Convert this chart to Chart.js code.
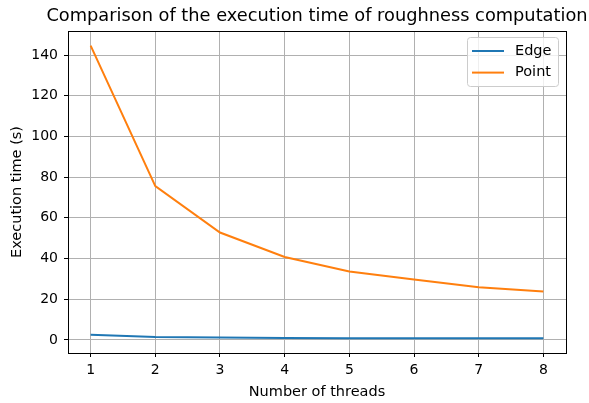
<!DOCTYPE html>
<html>
<head>
<meta charset="utf-8">
<script src="https://cdn.jsdelivr.net/npm/chart.js@4/dist/chart.umd.min.js"></script>
<style>
  html, body { margin: 0; padding: 0; background: #fff; }
  #wrap { width: 589px; height: 403px; position: relative; }
</style>
</head>
<body>
<div id="wrap"><canvas id="c"></canvas></div>
<script>
// Thread counts and measured execution times (seconds)
const threads = [1, 2, 3, 4, 5, 6, 7, 8];
const edgeTimes = [2.6, 1.5, 1.2, 1.0, 0.9, 0.85, 0.8, 0.8];
const pointTimes = [144.6, 75.6, 52.8, 40.8, 33.6, 29.7, 25.9, 23.8];
const yTickValues = [0, 20, 40, 60, 80, 100, 120, 140];
const seriesNames = ['Edge', 'Point'];
const chartTitle = 'Comparison of the execution time of roughness computation';

const FONT = 'DejaVu Sans';

// autoscale with a 5% margin on each side
function padded(vals) {
  const lo = Math.min(...vals), hi = Math.max(...vals);
  const m = (hi - lo) * 0.05;
  return [lo - m, hi + m];
}
const [xMin, xMax] = padded(threads);
const [yMin, yMax] = padded(edgeTimes.concat(pointTimes));

// full frame around the plot area, plus the title centred over it
const framePlugin = {
  id: 'frame',
  afterDatasetsDraw(chart) {
    const { ctx, chartArea: a } = chart;
    ctx.save();
    ctx.strokeStyle = '#000';
    ctx.lineWidth = 1;
    ctx.strokeRect(Math.round(a.left) + 0.5, Math.round(a.top) + 0.5,
                   Math.round(a.right - a.left), Math.round(a.bottom - a.top));
    ctx.font = '17.8px "' + FONT + '"';
    ctx.fillStyle = '#000';
    ctx.textAlign = 'center';
    ctx.textBaseline = 'middle';
    ctx.fillText(chartTitle, (a.left + a.right) / 2, a.top - 15);
    ctx.restore();
  }
};

// legend box in the upper-right corner of the plot
const innerLegend = {
  id: 'innerLegend',
  afterDraw(chart) {
    const { ctx, chartArea: a } = chart;
    const w = 91, h = 49;
    const x = a.right - 8 - w, y = a.top + 6;
    ctx.save();
    ctx.beginPath();
    ctx.roundRect(x + 0.5, y + 0.5, w, h, 3);
    ctx.fillStyle = 'rgba(255,255,255,0.8)';
    ctx.fill();
    ctx.strokeStyle = '#cccccc';
    ctx.lineWidth = 1;
    ctx.stroke();
    ctx.font = '14.5px "' + FONT + '"';
    ctx.textBaseline = 'middle';
    ctx.fillStyle = '#000';
    chart.data.datasets.forEach((ds, i) => {
      const ry = y + 14 + i * 21.6;
      ctx.beginPath();
      ctx.moveTo(x + 5, ry);
      ctx.lineTo(x + 37, ry);
      ctx.strokeStyle = ds.borderColor;
      ctx.lineWidth = 2;
      ctx.stroke();
      ctx.fillText(ds.label, x + 48, ry);
    });
    ctx.restore();
  }
};

new Chart(document.getElementById('c'), {
  type: 'line',
  data: {
    datasets: [
      {
        label: seriesNames[0],
        data: threads.map((t, i) => ({ x: t, y: edgeTimes[i] })),
        borderColor: '#1f77b4',
        backgroundColor: '#1f77b4',
        borderWidth: 2,
        pointRadius: 0,
        tension: 0
      },
      {
        label: seriesNames[1],
        data: threads.map((t, i) => ({ x: t, y: pointTimes[i] })),
        borderColor: '#ff7f0e',
        backgroundColor: '#ff7f0e',
        borderWidth: 2,
        pointRadius: 0,
        tension: 0
      }
    ]
  },
  options: {
    responsive: true,
    maintainAspectRatio: false,
    animation: false,
    layout: { padding: { left: 0, right: 23, top: 31, bottom: 0 } },
    plugins: {
      legend: { display: false },
      tooltip: { enabled: false },
      title: { display: false }
    },
    scales: {
      x: {
        type: 'linear',
        min: xMin,
        max: xMax,
        afterBuildTicks(scale) { scale.ticks = threads.map(v => ({ value: v })); },
        afterFit(scale) { scale.height = 50; },
        ticks: {
          color: '#000',
          font: { family: FONT, size: 14 },
          padding: 5,
          callback: v => String(v)
        },
        grid: { color: '#b0b0b0', lineWidth: 1, tickLength: 4, tickColor: '#000', drawOnChartArea: true },
        border: { color: '#000', width: 1 },
        title: {
          display: true,
          text: 'Number of threads',
          color: '#000',
          font: { family: FONT, size: 14.5 },
          padding: { top: 2, bottom: 2 }
        }
      },
      y: {
        type: 'linear',
        min: yMin,
        max: yMax,
        afterBuildTicks(scale) { scale.ticks = yTickValues.map(v => ({ value: v })); },
        afterFit(scale) { scale.width = 68; },
        ticks: {
          color: '#000',
          font: { family: FONT, size: 14 },
          padding: 6,
          callback: v => String(v)
        },
        grid: { color: '#b0b0b0', lineWidth: 1, tickLength: 4, tickColor: '#000' },
        border: { color: '#000', width: 1 },
        title: {
          display: true,
          text: 'Execution time (s)',
          color: '#000',
          font: { family: FONT, size: 14.5 },
          padding: { top: 9, bottom: 0 }
        }
      }
    }
  },
  plugins: [framePlugin, innerLegend]
});
</script>
</body>
</html>
